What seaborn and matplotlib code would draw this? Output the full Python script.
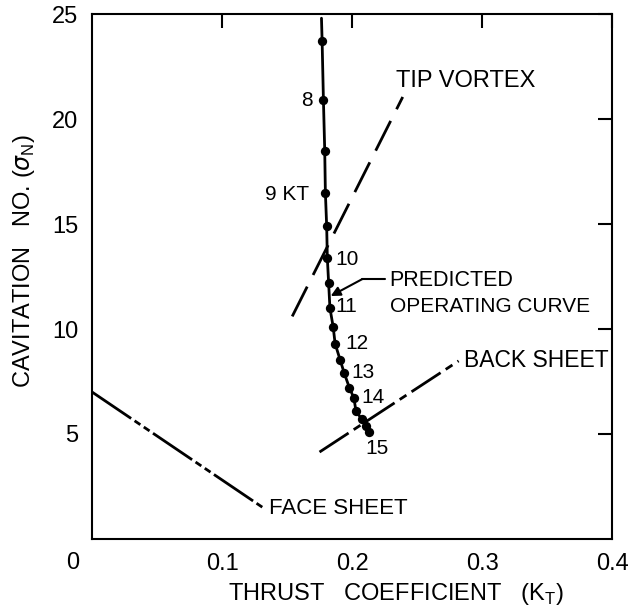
import pandas as pd
import seaborn as sns
import matplotlib.pyplot as plt

# predicted operating curve (kt = thrust coeff, sigma = cavitation no.)
curve_top = (0.1765, 24.8)
op_kt = [0.177, 0.178, 0.179, 0.1795, 0.1805, 0.181, 0.182, 0.183, 0.1855,
         0.187, 0.191, 0.194, 0.198, 0.2015, 0.203, 0.2075, 0.2105, 0.213]
op_sigma = [23.7, 20.9, 18.5, 16.5, 14.9, 13.4, 12.2, 11.0, 10.1,
            9.3, 8.5, 7.9, 7.2, 6.7, 6.1, 5.7, 5.4, 5.1]

# speed labels along the curve
speed_text = ["8", "9 KT", "10", "11", "12", "13", "14", "15"]
speed_kt = [0.1697, 0.167, 0.187, 0.1873, 0.1946, 0.1996, 0.207, 0.210]
speed_sigma = [20.9, 16.4, 13.33, 11.05, 9.29, 7.95, 6.76, 4.29]
speed_align = ["right", "right", "left", "left", "left", "left", "left", "left"]

# cavitation inception boundaries
tip_kt = [0.154, 0.239]
tip_sigma = [10.6, 21.05]
back_kt = [0.175, 0.282]
back_sigma = [4.14, 8.48]
face_kt = [0.0, 0.133]
face_sigma = [7.0, 1.43]

x_ticks = [0.1, 0.2, 0.3, 0.4]
x_tick_labels = ["0.1", "0.2", "0.3", "0.4"]
y_ticks = [5, 10, 15, 20, 25]

sns.set_style("white")
plt.rcParams['font.family'] = ['Liberation Sans', 'DejaVu Sans']
plt.rcParams['mathtext.fontset'] = 'custom'
plt.rcParams['mathtext.rm'] = 'Liberation Sans'
plt.rcParams['text.color'] = 'black'
plt.rcParams['axes.labelcolor'] = 'black'
plt.rcParams['xtick.color'] = 'black'
plt.rcParams['ytick.color'] = 'black'

fig = plt.figure(figsize=(6.32, 6.15), dpi=100)
ax = fig.add_axes([0.1456, 0.1236, 0.8228, 0.8536])

curve = pd.DataFrame({"kt": [curve_top[0]] + op_kt,
                      "sigma": [curve_top[1]] + op_sigma})
sns.lineplot(x="kt", y="sigma", data=curve, sort=False, estimator=None,
             color="black", linewidth=2, ax=ax)
sns.scatterplot(x=op_kt, y=op_sigma, color="black", s=45, linewidth=0,
                zorder=3, ax=ax)

sns.lineplot(x=tip_kt, y=tip_sigma, sort=False, estimator=None, color="black",
             linewidth=2, linestyle=(0, (12, 4.7)), ax=ax)
sns.lineplot(x=back_kt, y=back_sigma, sort=False, estimator=None, color="black",
             linewidth=2, linestyle=(0, (12.5, 2.2, 2.9, 2.2)), ax=ax)
sns.lineplot(x=face_kt, y=face_sigma, sort=False, estimator=None, color="black",
             linewidth=2, linestyle=(0, (17, 1.5, 2.5, 1.5, 2.5, 1.5)), ax=ax)

for txt, x, y, ha in zip(speed_text, speed_kt, speed_sigma, speed_align):
    ax.text(x, y, txt, ha=ha, va="center", fontsize=15, color="black")

ax.text(0.234, 21.8, "TIP VORTEX", ha="left", va="center", fontsize=17, color="black")
ax.text(0.229, 12.33, "PREDICTED", ha="left", va="center", fontsize=15.5, color="black")
ax.text(0.229, 11.07, "OPERATING CURVE", ha="left", va="center", fontsize=15, color="black")
ax.text(0.286, 8.5, "BACK SHEET", ha="left", va="center", fontsize=16.5, color="black")
ax.text(0.1365, 1.43, "FACE SHEET", ha="left", va="center", fontsize=16, color="black")

# leader with arrow to the curve
ax.plot([0.2254, 0.208], [12.38, 12.38], color="black", lw=1.5)
ax.annotate("", xy=(0.1836, 11.57), xytext=(0.208, 12.38),
            arrowprops=dict(arrowstyle="-|>", color="black", lw=1.5,
                            mutation_scale=14, shrinkA=0, shrinkB=0))

ax.set_xlim(0, 0.4)
ax.set_ylim(0, 25)
ax.set_xticks(x_ticks)
ax.set_xticklabels(x_tick_labels)
ax.set_yticks(y_ticks)
ax.tick_params(direction="in", length=10, width=1.5, top=True, right=True,
               labelsize=17, pad=10, colors="black")
for s in ax.spines.values():
    s.set_linewidth(1.5)
    s.set_color("black")

ax.annotate("0", xy=(0, 0), xytext=(-14, -17), textcoords="offset points",
            ha="center", va="center", fontsize=17, color="black",
            annotation_clip=False)

ax.set_xlabel(r"THRUST   COEFFICIENT   (K$_\mathregular{T}$)", fontsize=17)
ax.set_ylabel(r"CAVITATION   NO. ($\sigma_\mathregular{N}$)", fontsize=17)
ax.xaxis.set_label_coords(0.585, -0.08)
ax.yaxis.set_label_coords(-0.105, 0.53)

fig.savefig("out.png", dpi=100)
